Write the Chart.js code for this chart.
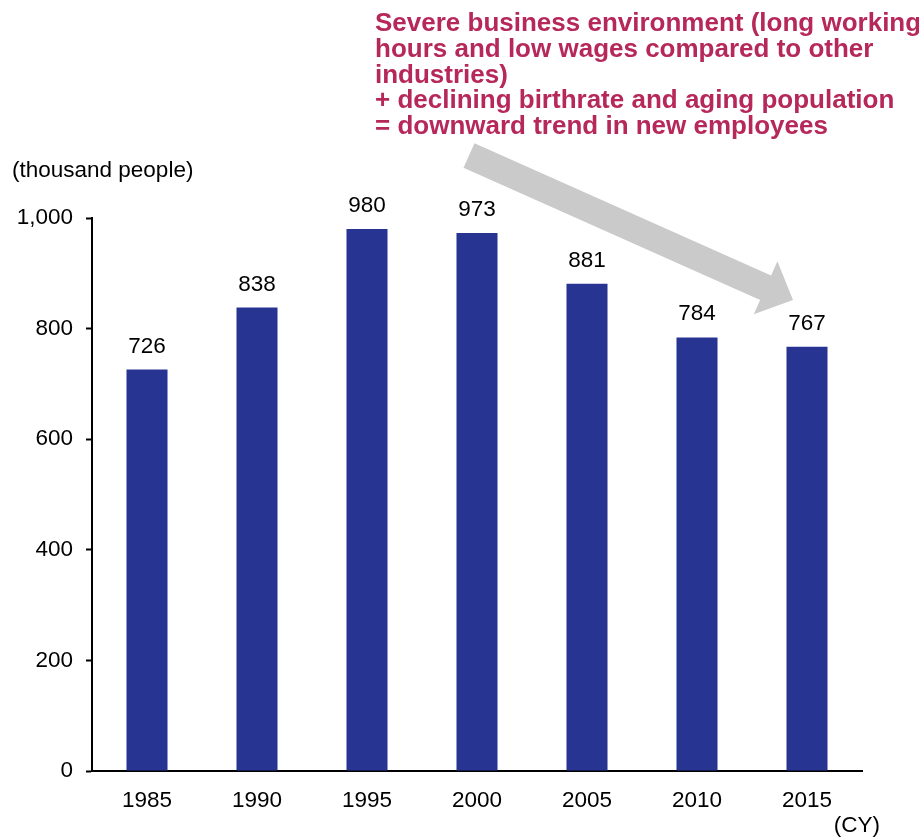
<!DOCTYPE html>
<html>
<head>
<meta charset="utf-8">
<script src="https://cdn.jsdelivr.net/npm/chart.js@4"></script>
<style>
  body { margin: 0; background: #fff; }
  #wrap { width: 919px; height: 840px; }
</style>
</head>
<body>
<div id="wrap"><canvas id="newEmployees" width="919" height="840"></canvas></div>
<script>
const years = ['1985', '1990', '1995', '2000', '2005', '2010', '2015'];
const newEmployees = [726, 838, 980, 973, 881, 784, 767];
const yTicks = [0, 200, 400, 600, 800, 1000];

const unitLabel = '(thousand people)';
const yearUnit = '(CY)';
const noteLines = [
    'Severe business environment (long working',
    'hours and low wages compared to other',
    'industries)',
    '+ declining birthrate and aging population',
    '= downward trend in new employees'
];

const FONT = '"Liberation Sans", Arial, Helvetica, sans-serif';
const TEXT_SIZE = 22.5;

// values over the bars, unit captions, the note and the grey trend arrow
const extras = {
    id: 'extras',
    afterDatasetsDraw(chart) {
        const ctx = chart.ctx;
        const bars = chart.getDatasetMeta(0).data;
        ctx.save();
        ctx.fillStyle = '#000';
        ctx.font = TEXT_SIZE + 'px ' + FONT;
        ctx.textAlign = 'center';
        ctx.textBaseline = 'alphabetic';
        bars.forEach((bar, i) => {
            ctx.fillText(String(newEmployees[i]), bar.x, bar.y - 17);
        });

        ctx.textAlign = 'left';
        ctx.fillText(unitLabel, 12, 177);
        ctx.textAlign = 'right';
        ctx.fillText(yearUnit, 880, 832);

        // trend arrow
        const tail = { x: 469, y: 155.5 };
        const tip = { x: 793, y: 300 };
        const dx = tip.x - tail.x, dy = tip.y - tail.y;
        const len = Math.hypot(dx, dy);
        const ux = dx / len, uy = dy / len;
        const nx = -uy, ny = ux;
        const shaft = 13.5, head = 29, headLen = 30;
        const bx = tip.x - ux * headLen, by = tip.y - uy * headLen;
        ctx.fillStyle = '#cacaca';
        ctx.beginPath();
        ctx.moveTo(tail.x + nx * shaft, tail.y + ny * shaft);
        ctx.lineTo(bx + nx * shaft, by + ny * shaft);
        ctx.lineTo(bx + nx * head, by + ny * head);
        ctx.lineTo(tip.x, tip.y);
        ctx.lineTo(bx - nx * head, by - ny * head);
        ctx.lineTo(bx - nx * shaft, by - ny * shaft);
        ctx.lineTo(tail.x - nx * shaft, tail.y - ny * shaft);
        ctx.closePath();
        ctx.fill();

        ctx.fillStyle = '#b6285a';
        ctx.font = 'bold 26px ' + FONT;
        ctx.textAlign = 'left';
        noteLines.forEach((line, i) => {
            ctx.fillText(line, 375, 31 + i * 25.8);
        });
        ctx.restore();
    }
};

new Chart(document.getElementById('newEmployees'), {
    type: 'bar',
    data: {
        labels: years,
        datasets: [{
            data: newEmployees,
            backgroundColor: '#283492',
            borderWidth: 0,
            barPercentage: 0.373,
            categoryPercentage: 1
        }]
    },
    plugins: [extras],
    options: {
        responsive: false,
        animation: false,
        layout: { padding: { left: 0, top: 218, right: 57, bottom: 0 } },
        plugins: {
            legend: { display: false },
            tooltip: { enabled: false }
        },
        scales: {
            x: {
                afterFit(scale) { scale.height = 69; },
                border: { display: true, color: '#000', width: 2 },
                grid: { display: true, drawOnChartArea: false, drawTicks: false },
                ticks: {
                    color: '#000',
                    padding: 16,
                    font: { family: FONT, size: TEXT_SIZE }
                }
            },
            y: {
                min: 0,
                max: 1000,
                afterFit(scale) { scale.width = 92; },
                afterBuildTicks(scale) {
                    scale.ticks = yTicks.map(v => ({ value: v }));
                },
                border: { display: true, color: '#000', width: 2 },
                grid: {
                    drawOnChartArea: false,
                    drawTicks: true,
                    tickLength: 6,
                    tickWidth: 2,
                    color: '#000'
                },
                ticks: {
                    color: '#000',
                    padding: 13,
                    font: { family: FONT, size: TEXT_SIZE },
                    callback: v => v.toLocaleString('en-US')
                }
            }
        }
    }
});
</script>
</body>
</html>
